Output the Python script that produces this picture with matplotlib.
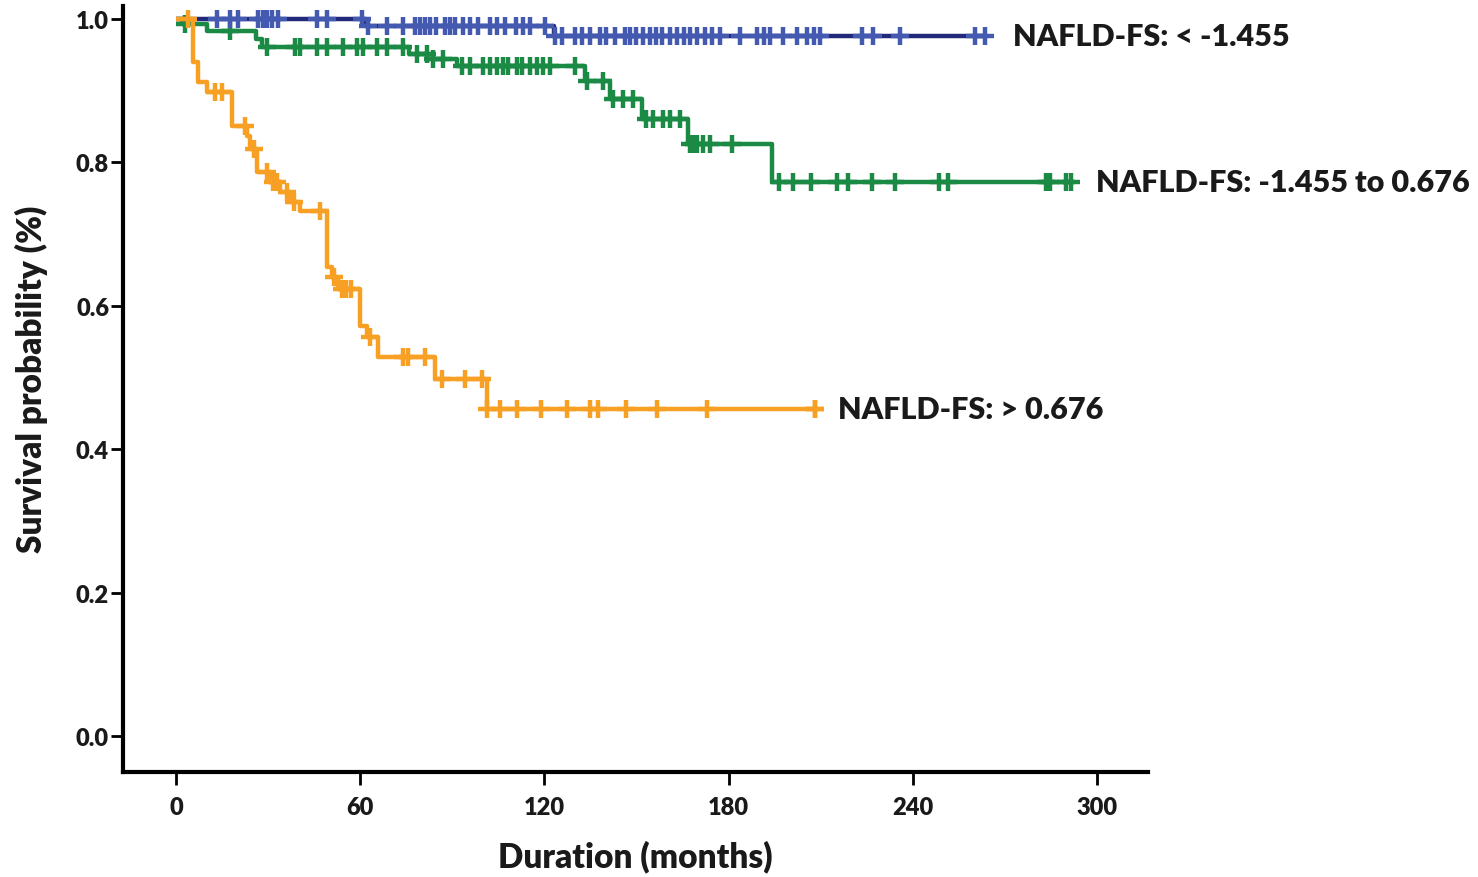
import numpy as np
import matplotlib
matplotlib.use("Agg")
import matplotlib.pyplot as plt

# ---------------- data ----------------
# step curves: event times (months) and survival after each step
low_times = [0, 62, 123]
low_surv = [1.0, 0.990, 0.976]
low_end = 263.5
low_censor = [13.4, 17.6, 20.2, 26.7, 28.3, 29.6, 31.3, 33.2, 45.9, 49.2, 60.6, 62.5,
              68.7, 73.9, 77.9, 79.5, 81.0, 82.7, 84.7, 87.6, 89.3, 90.9, 93.5, 95.8,
              98.4, 102.3, 104.6, 107.2, 110.7, 113.0, 115.3, 120.2, 123.5, 125.7,
              130.0, 132.2, 134.9, 138.1, 140.0, 143.0, 146.3, 147.9, 149.8, 152.1,
              154.4, 156.4, 158.3, 160.9, 163.2, 165.5, 167.4, 169.7, 172.3, 174.6,
              177.2, 183.7, 189.3, 191.5, 193.5, 197.7, 202.3, 205.5, 207.8, 209.8,
              223.5, 227.0, 235.8, 260.3]

mid_times = [0, 2, 10, 26, 28, 76, 82, 91.5, 133.2, 141.4, 151.8, 166.8, 194.1]
mid_surv = [1.0, 0.993, 0.983, 0.972, 0.961, 0.951, 0.944, 0.935, 0.914, 0.888,
            0.861, 0.826, 0.773]
mid_end = 291.5
mid_censor = [2.9, 17.6, 29.6, 38.8, 40.4, 45.9, 49.2, 54.4, 59.0, 60.9, 65.5, 68.7,
              73.9, 78.5, 81.8, 83.7, 87.0, 93.2, 95.8, 100.0, 102.3, 104.6, 106.5,
              108.1, 111.0, 112.7, 115.3, 117.6, 119.5, 121.8, 130.0, 134.0, 139.1,
              142.3, 145.6, 148.9, 153.0, 155.4, 158.6, 160.9, 164.2, 167.5, 168.8,
              169.7, 171.7, 173.9, 181.1, 196.4, 201.0, 206.8, 215.3, 218.9, 226.7,
              234.2, 248.5, 251.5, 283.4, 284.7, 289.9]

high_times = [0, 5.5, 7.2, 10, 18.2, 23, 24, 26.4, 30.6, 33.9, 37.1, 40.4, 49.2,
              50.8, 52.8, 60, 62.2, 65.8, 84.4, 101.3]
high_surv = [1.0, 0.94, 0.912, 0.898, 0.851, 0.837, 0.819, 0.787, 0.773, 0.759,
             0.745, 0.732, 0.654, 0.640, 0.623, 0.572, 0.556, 0.529, 0.498, 0.456]
high_end = 208
high_censor = [3.9, 12.7, 15.0, 22.5, 25.5, 29.5, 31.5, 33.0, 36.0, 38.5, 47.0, 51.5,
               54.0, 55.5, 57.0, 63.0, 74.0, 75.5, 81.0, 86.5, 94.0, 99.5, 101.3,
               105.5, 111.0, 119.0, 127.4, 134.9, 137.5, 146.6, 156.7, 173.0, 208.0]

labels = ["NAFLD-FS: < -1.455", "NAFLD-FS: -1.455 to 0.676", "NAFLD-FS: > 0.676"]
x_ticks = [0, 60, 120, 180, 240, 300]
y_ticks = [0.0, 0.2, 0.4, 0.6, 0.8, 1.0]

# ---------------- styling ----------------
plt.rcParams['font.family'] = ['Lato', 'DejaVu Sans']
WEIGHT = 'heavy'
TXT = '#1a1a1a'

fig = plt.figure(figsize=(14.78, 8.78), dpi=100)
ax = fig.add_axes([123 / 1478, 1 - 773 / 878, (1148 - 123) / 1478, (773 - 7) / 878])


def surv_at(t, times, surv):
    idx = np.searchsorted(np.asarray(times), t, side='right') - 1
    return np.asarray(surv)[idx]


def draw(times, surv, end, censor, line_col, mark_col, z):
    xs = list(times) + [end]
    ys = list(surv) + [surv[-1]]
    ax.step(xs, ys, where='post', color=line_col, lw=3.2, zorder=z,
            clip_on=False, solid_capstyle='butt')
    cx = np.asarray(censor)
    cy = surv_at(cx, times, surv)
    ax.plot(cx, cy, ls='none', marker='+', ms=13, mew=3.2, color=mark_col,
            zorder=z + 0.5, clip_on=False)
    ax.plot([end], [surv[-1]], ls='none', marker='+', ms=13, mew=3.2,
            color=mark_col, zorder=z + 0.5, clip_on=False)


draw(mid_times, mid_surv, mid_end, mid_censor, '#1a8a45', '#1a8a45', 2)
draw(low_times, low_surv, low_end, low_censor, '#23297a', '#4459b0', 3)
draw(high_times, high_surv, high_end, high_censor, '#f7a023', '#f7a023', 4)

ax.text(low_end + 9, low_surv[-1], labels[0], fontsize=22, fontweight=WEIGHT,
        color=TXT, va='center', ha='left')
ax.text(mid_end + 8, mid_surv[-1], labels[1], fontsize=22, fontweight=WEIGHT,
        color=TXT, va='center', ha='left')
ax.text(high_end + 7.5, high_surv[-1], labels[2], fontsize=22, fontweight=WEIGHT,
        color=TXT, va='center', ha='left')

ax.set_xlim(-17.3, 316.6)
ax.set_ylim(-0.050, 1.018)
ax.set_xticks(x_ticks)
ax.set_xticklabels([str(v) for v in x_ticks], fontweight=WEIGHT)
ax.set_yticks(y_ticks)
ax.set_yticklabels([f"{v:.1f}" for v in y_ticks], fontweight=WEIGHT)

for s in ['top', 'right']:
    ax.spines[s].set_visible(False)
for s in ['left', 'bottom']:
    ax.spines[s].set_linewidth(3)
    ax.spines[s].set_color('black')

ax.tick_params(axis='both', which='major', length=9, width=2, color='black',
               labelsize=17, labelcolor=TXT)
ax.tick_params(axis='y', pad=1)
ax.tick_params(axis='x', pad=8)

ax.set_xlabel("Duration (months)", fontsize=24, fontweight=WEIGHT, color=TXT,
              labelpad=16)
ax.set_ylabel("Survival probability (%)", fontsize=24, fontweight=WEIGHT, color=TXT)
ax.yaxis.set_label_coords(-0.073, 0.514)
ax.patch.set_visible(False)

fig.savefig("out.png", dpi=100, facecolor='white')
